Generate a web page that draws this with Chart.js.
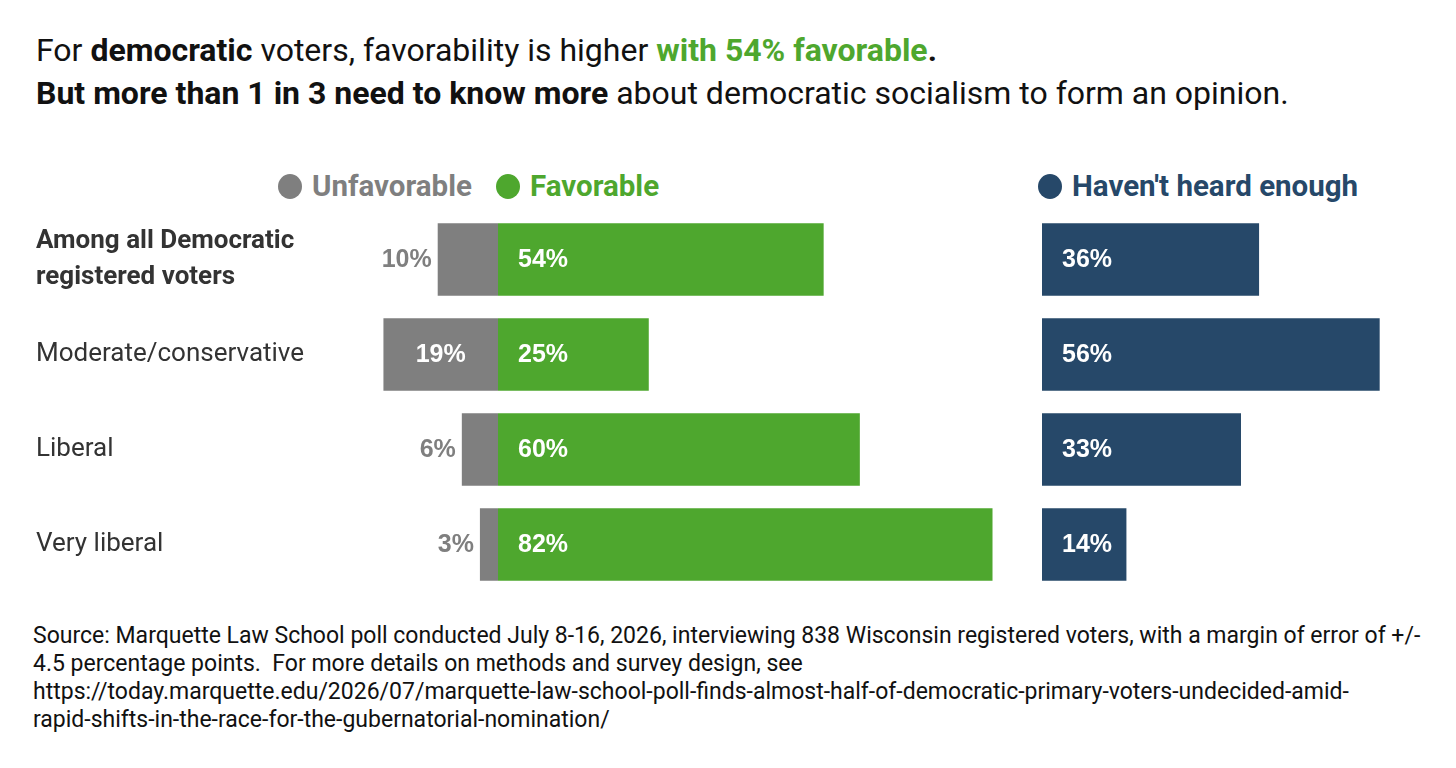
<!DOCTYPE html>
<html>
<head>
<meta charset="utf-8">
<script src="https://cdn.jsdelivr.net/npm/chart.js@4.4.1/dist/chart.umd.min.js"></script>
<style>
  html, body { margin:0; padding:0; background:#fff; width:1456px; height:768px; overflow:hidden; font-family: Roboto, "Noto Sans", sans-serif; }
  #title { position:absolute; left:36px; top:29px; font-size:32px; line-height:43px; color:#111; white-space:nowrap; }
  #title b { font-weight:700; }
  .green { color:#4EA72E; }
  .legend { position:absolute; top:167px; height:38px; display:flex; align-items:center; font-size:29.5px; font-weight:700; white-space:nowrap; }
  .dot { width:24px; height:25px; border-radius:50%; margin-right:10px; display:inline-block; }
  #foot { position:absolute; left:33px; top:622px; font-size:23px; line-height:28px; color:#111; white-space:nowrap; }
  #c1wrap { position:absolute; left:0; top:200px; width:1020px; height:410px; }
  #c2wrap { position:absolute; left:1020px; top:200px; width:436px; height:410px; }
</style>
</head>
<body>
<div id="title">For <b>democratic</b> voters, favorability is higher <b class="green">with 54% favorable</b><b>.</b><br><b>But more than 1 in 3 need to know more</b> about democratic socialism to form an opinion.</div>

<div class="legend" style="left:278px;color:#7F7F7F"><span class="dot" style="background:#7F7F7F"></span>Unfavorable</div>
<div class="legend" style="left:496px;color:#4EA72E"><span class="dot" style="background:#4EA72E"></span>Favorable</div>
<div class="legend" style="left:1038px;color:#264869"><span class="dot" style="background:#264869"></span>Haven't heard enough</div>

<div id="c1wrap"><canvas id="c1"></canvas></div>
<div id="c2wrap"><canvas id="c2"></canvas></div>

<div id="foot">Source: Marquette Law School poll conducted July 8-16, 2026, interviewing 838 Wisconsin registered voters, with a margin of error of +/-<br>4.5 percentage points.&nbsp; For more details on methods and survey design, see<br>https://today.marquette.edu/2026/07/marquette-law-school-poll-finds-almost-half-of-democratic-primary-voters-undecided-amid-<br>rapid-shifts-in-the-race-for-the-gubernatorial-nomination/</div>

<script>
const categories = [["Among all Democratic", "registered voters"], "Moderate/conservative", "Liberal", "Very liberal"];
const unfavorable = [10, 19, 6, 3];
const favorable = [54, 25, 60, 82];
const haventHeard = [36, 56, 33, 14];

const GRAY = '#7F7F7F', GREEN = '#4EA72E', NAVY = '#264869';
const LABEL_FONT = 'bold 25px "Liberation Sans", Arial, sans-serif';

const labelPlugin = {
  id: 'valueLabels',
  afterDatasetsDraw(chart) {
    const ctx = chart.ctx;
    ctx.save();
    ctx.font = LABEL_FONT;
    ctx.textBaseline = 'middle';
    chart.data.datasets.forEach((ds, di) => {
      const meta = chart.getDatasetMeta(di);
      meta.data.forEach((bar, i) => {
        const raw = ds.rawValues[i];
        const txt = raw + '%';
        const left = Math.min(bar.x, bar.base);
        const right = Math.max(bar.x, bar.base);
        const y = bar.y + 1;
        if (ds.kind === 'unfav') {
          if (right - left > 80) {
            ctx.fillStyle = '#fff';
            ctx.textAlign = 'center';
            ctx.fillText(txt, (left + right) / 2, y);
          } else {
            ctx.fillStyle = GRAY;
            ctx.textAlign = 'right';
            ctx.fillText(txt, left - 6, y);
          }
        } else {
          ctx.fillStyle = '#fff';
          ctx.textAlign = 'left';
          ctx.fillText(txt, left + 20, y);
        }
      });
    });
    ctx.restore();
  }
};

const PX_PER_UNIT = 6.03;

new Chart(document.getElementById('c1'), {
  type: 'bar',
  data: {
    labels: categories,
    datasets: [
      { label: 'Unfavorable', kind: 'unfav', data: unfavorable.map(v => -v), rawValues: unfavorable, backgroundColor: GRAY },
      { label: 'Favorable', kind: 'fav', data: favorable, rawValues: favorable, backgroundColor: GREEN }
    ]
  },
  options: {
    indexAxis: 'y',
    responsive: true,
    maintainAspectRatio: false,
    animation: false,
    events: [],
    layout: { padding: { left: 36, top: 12, bottom: 18, right: 9.4 } },
    datasets: { bar: { categoryPercentage: 1, barPercentage: 0.765 } },
    plugins: { legend: { display: false }, tooltip: { enabled: false } },
    scales: {
      x: { stacked: true, min: -20, max: 85, display: false, grid: { display: false } },
      y: {
        stacked: true,
        grid: { display: false },
        border: { display: false },
        afterFit(scale) {
          scale.width = 498 - 20 * PX_PER_UNIT - 36;
          scale.paddingTop = 0;
          scale.paddingBottom = 0;
        },
        ticks: {
          crossAlign: 'far',
          color: '#333333',
          font: (c) => c.index === 0
            ? { family: 'Roboto, sans-serif', size: 26, weight: 'bold', lineHeight: 1.4 }
            : { family: 'Roboto, sans-serif', size: 26, weight: 'normal' }
        }
      }
    }
  },
  plugins: [labelPlugin]
});

new Chart(document.getElementById('c2'), {
  type: 'bar',
  data: {
    labels: categories,
    datasets: [
      { label: "Haven't heard enough", kind: 'hh', data: haventHeard, rawValues: haventHeard, backgroundColor: NAVY }
    ]
  },
  options: {
    indexAxis: 'y',
    responsive: true,
    maintainAspectRatio: false,
    animation: false,
    events: [],
    layout: { padding: { left: 22, top: 12, bottom: 18, right: 436 - 22 - 60 * PX_PER_UNIT } },
    datasets: { bar: { categoryPercentage: 1, barPercentage: 0.765 } },
    plugins: { legend: { display: false }, tooltip: { enabled: false } },
    scales: {
      x: { min: 0, max: 60, display: false, grid: { display: false } },
      y: { display: false, grid: { display: false } }
    }
  },
  plugins: [labelPlugin]
});
</script>
</body>
</html>
